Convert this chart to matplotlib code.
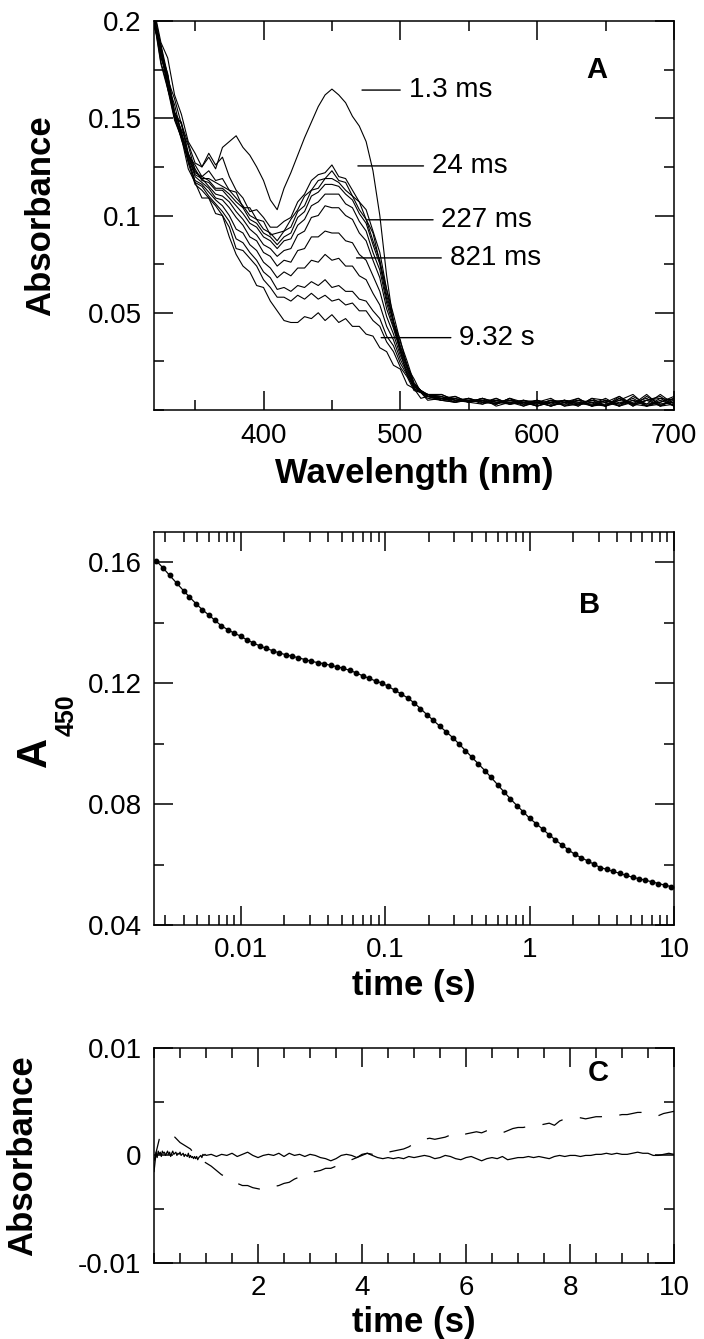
import numpy as np
import matplotlib
matplotlib.use("Agg")
import matplotlib.pyplot as plt
from matplotlib.ticker import MultipleLocator, LogLocator, NullFormatter

plt.rcParams['font.family'] = ['Liberation Sans', 'DejaVu Sans']

# ---- panel A: spectra (mA), 320-520 nm every 5 nm, then 530-700 every 10 nm
wl_main = np.arange(320, 521, 5)
wl_tail = np.arange(530, 701, 10)
wavelengths = np.concatenate([wl_main, wl_tail])

spec_main = [
    [206, 189, 181, 162, 152, 138, 132, 125, 130, 124, 135, 138, 141, 135, 131, 125, 118, 108, 103, 114, 122,
     131, 140, 148, 156, 162, 165, 162, 158, 151, 146, 138, 123, 100, 69, 45, 30, 18, 12, 9, 8],
    [205, 187, 170, 160, 147, 137, 127, 125, 132, 126, 130, 120, 113, 109, 102, 103, 99, 94, 94, 97, 99,
     107, 111, 118, 121, 122, 126, 120, 119, 113, 107, 103, 92, 81, 62, 49, 35, 25, 14, 10, 8],
    [200, 188, 172, 153, 147, 131, 126, 120, 123, 118, 119, 113, 112, 104, 104, 98, 97, 90, 91, 92, 98,
     103, 110, 113, 118, 119, 123, 118, 117, 110, 107, 98, 91, 76, 62, 45, 36, 22, 16, 9, 8],
    [203, 184, 173, 153, 144, 136, 123, 119, 119, 117, 115, 113, 109, 105, 100, 98, 93, 91, 87, 92, 94,
     102, 105, 113, 114, 119, 119, 117, 113, 110, 103, 98, 87, 77, 59, 46, 33, 23, 13, 10, 8],
    [198, 186, 167, 157, 142, 132, 122, 120, 118, 114, 114, 111, 107, 104, 98, 96, 91, 89, 85, 89, 91,
     99, 102, 110, 112, 116, 116, 115, 111, 108, 101, 96, 85, 75, 57, 45, 32, 23, 13, 10, 7],
    [202, 181, 172, 150, 148, 132, 124, 118, 117, 113, 113, 109, 105, 101, 96, 94, 89, 87, 83, 87, 88,
     95, 98, 105, 107, 111, 111, 111, 106, 104, 97, 92, 81, 72, 55, 43, 31, 22, 13, 10, 7],
    [199, 185, 165, 153, 143, 131, 121, 119, 115, 111, 110, 107, 102, 98, 93, 90, 85, 83, 79, 82, 83,
     90, 92, 99, 100, 105, 104, 104, 100, 98, 91, 87, 77, 68, 52, 42, 30, 21, 12, 10, 7],
    [204, 182, 169, 151, 141, 130, 120, 117, 114, 109, 108, 104, 99, 95, 89, 87, 81, 79, 74, 77, 76,
     82, 83, 89, 89, 92, 91, 91, 87, 86, 80, 77, 69, 61, 48, 39, 28, 20, 12, 10, 7],
    [197, 187, 166, 150, 140, 128, 118, 116, 112, 108, 105, 100, 93, 91, 85, 82, 76, 73, 68, 71, 69,
     73, 73, 77, 76, 80, 77, 78, 74, 74, 69, 67, 60, 54, 43, 36, 26, 19, 11, 9, 7],
    [201, 179, 166, 152, 139, 129, 117, 115, 110, 106, 102, 97, 88, 86, 81, 77, 71, 68, 62, 63, 61,
     64, 63, 66, 64, 67, 63, 64, 61, 61, 57, 56, 51, 47, 38, 33, 24, 18, 11, 9, 6],
    [198, 184, 168, 151, 142, 127, 116, 113, 109, 105, 100, 94, 83, 82, 78, 74, 67, 63, 58, 58, 56,
     59, 57, 60, 57, 59, 56, 57, 54, 55, 51, 51, 46, 43, 35, 30, 22, 17, 10, 9, 5],
    [200, 178, 165, 149, 140, 124, 117, 109, 109, 101, 100, 89, 80, 74, 71, 64, 63, 56, 51, 46, 45,
     45, 48, 47, 50, 46, 49, 45, 47, 43, 43, 39, 38, 32, 30, 23, 21, 13, 11, 6, 7],
]
spec_tail = [
    [8, 5, 6, 4, 6, 3, 5, 4, 6, 2, 5, 4, 2, 7, 3, 5, 6, 2],
    [6, 7, 4, 5, 3, 6, 4, 2, 5, 4, 2, 6, 5, 3, 6, 2, 4, 7],
    [7, 4, 6, 3, 5, 4, 2, 5, 3, 5, 4, 3, 2, 6, 2, 7, 3, 4],
    [5, 6, 4, 6, 4, 5, 3, 4, 2, 4, 6, 2, 5, 3, 5, 3, 8, 3],
    [8, 5, 4, 6, 2, 4, 5, 3, 5, 2, 3, 5, 4, 2, 7, 3, 4, 6],
    [6, 4, 5, 5, 3, 5, 4, 2, 4, 5, 2, 6, 2, 5, 3, 8, 2, 5],
    [5, 7, 4, 3, 6, 3, 4, 5, 2, 4, 5, 2, 4, 7, 2, 5, 7, 2],
    [7, 5, 5, 4, 3, 6, 2, 4, 4, 5, 3, 3, 6, 2, 5, 2, 6, 5],
    [6, 6, 4, 6, 4, 4, 3, 3, 5, 4, 4, 2, 3, 5, 8, 2, 3, 4],
    [5, 4, 6, 4, 5, 3, 4, 4, 2, 5, 3, 4, 2, 6, 3, 5, 2, 6],
    [6, 5, 5, 5, 3, 6, 3, 5, 3, 3, 6, 2, 5, 2, 4, 6, 2, 3],
    [5, 4, 5, 4, 4, 3, 5, 2, 4, 3, 3, 5, 2, 4, 3, 2, 5, 2],
]

# time labels with leader lines: (text, line start nm, text start nm, y)
time_labels = ["1.3 ms", "24 ms", "227 ms", "821 ms", "9.32 s"]
label_line_x = [472, 469, 476, 468, 486]
label_text_x = [506, 523, 530, 536, 543]
label_y = [0.1645, 0.1255, 0.0978, 0.0782, 0.0372]

# ---- panel B: A450 vs time
t_b = [0.0026, 0.0029, 0.0032, 0.0036, 0.004, 0.0044, 0.0049, 0.0054, 0.006, 0.0066,
       0.0073, 0.0081, 0.009, 0.01, 0.011, 0.0122, 0.0135, 0.015, 0.0166, 0.0184,
       0.0204, 0.0226, 0.025, 0.0277, 0.0307, 0.034, 0.0377, 0.0418, 0.0463, 0.0513,
       0.0568, 0.063, 0.0698, 0.0773, 0.0857, 0.095, 0.105, 0.116, 0.129, 0.143,
       0.158, 0.175, 0.194, 0.215, 0.238, 0.264, 0.293, 0.324, 0.359, 0.398,
       0.441, 0.489, 0.541, 0.6, 0.665, 0.736, 0.816, 0.904, 1.0, 1.11,
       1.23, 1.36, 1.51, 1.67, 1.85, 2.05, 2.27, 2.52, 2.79, 3.09,
       3.42, 3.79, 4.2, 4.66, 5.16, 5.72, 6.33, 7.02, 7.78, 8.62, 9.55]
a450 = [0.1604, 0.1580, 0.1557, 0.1530, 0.1506, 0.1485, 0.1462, 0.1443, 0.1425, 0.1408,
        0.1390, 0.1377, 0.1365, 0.1355, 0.1343, 0.1333, 0.1323, 0.1315, 0.1307, 0.1300,
        0.1294, 0.1289, 0.1284, 0.1278, 0.1272, 0.1268, 0.1264, 0.1259, 0.1254, 0.1249,
        0.1242, 0.1234, 0.1224, 0.1216, 0.1207, 0.1200, 0.1189, 0.1177, 0.1164, 0.1151,
        0.1135, 0.1116, 0.1096, 0.1077, 0.1058, 0.1039, 0.1020, 0.0999, 0.0977, 0.0955,
        0.0933, 0.0911, 0.0888, 0.0864, 0.0840, 0.0817, 0.0795, 0.0774, 0.0753, 0.0735,
        0.0717, 0.0699, 0.0681, 0.0665, 0.0649, 0.0634, 0.0623, 0.0612, 0.0601, 0.0590,
        0.0584, 0.0577, 0.0571, 0.0564, 0.0558, 0.0553, 0.0548, 0.0543, 0.0537, 0.0532, 0.0527]

# ---- panel C: residuals (units of 1e-4)
resid_solid_early = [-15, -6, 3, -2, 4, 1, 3, -1, 4, 2, 3, 0, 2, 4, 1, 3, -1, 2, 4, 1,
                     2, 3, 0, 2, 1, 3, 0, 1, 2, -1, 1, 0, -1, 2, -2, 0, -2, -1, -3, -1,
                     -3, -1, -4, -2, -1, 0, -2, 1, 0, 1]
resid_solid_late = [0, 1, -1, 1, 0, 2, -1, 1, 3, 0,
                    -2, 0, 1, 0, 2, -1, 2, 0, 1, -1,
                    1, 0, -2, -3, -5, -3, 0, 1, 0, -2,
                    1, 2, 0, -2, -3, -2, -3, -2, -3, -1,
                    -2, -1, 0, -1, -3, -2, 0, -1, -3, -4,
                    -2, -1, -3, -5, -3, -2, -3, -1, -4, -3,
                    -2, -2, -1, -2, -1, -2, -3, -1, 0, -1,
                    0, 0, -1, 0, 0, 1, 1, 2, 1, 2,
                    1, 1, 2, 3, 2, 2, 0, 0, 1, 2,
                    1]
resid_dashed = [-5, 15, 20, 18, 17, 12, 9, 6, 0, -4,
                -7, -10, -14, -18, -20, -23, -26, -28, -28, -30,
                -31, -32, -30, -29, -28, -26, -25, -22, -20, -18,
                -16, -15, -14, -12, -12, -10, -8, -6, -4, -2,
                0, 2, 1, 0, 1, 3, 4, 5, 6, 8,
                11, 13, 15, 16, 15, 16, 17, 19, 17, 18,
                20, 21, 22, 21, 23, 24, 22, 21, 23, 25,
                26, 26, 27, 27, 28, 29, 30, 28, 32, 34,
                34, 35, 35, 34, 35, 36, 36, 37, 37, 37,
                38, 38, 39, 40, 40, 40, 38, 37, 39, 40,
                41]
t_c_early = np.arange(0, 1.0, 0.02)
t_c_late = np.linspace(1.0, 10.0, 91)
t_c_dash = np.linspace(0, 10, 101)

tick_fs = 20
label_fs = 25
panel_fs = 21


def style_axes(ax):
    ax.tick_params(which='both', direction='in', top=True, right=True,
                   labelsize=tick_fs, width=1.1, pad=9)
    ax.tick_params(which='major', length=13.5)
    ax.tick_params(which='minor', length=7)
    for s in ax.spines.values():
        s.set_linewidth(1.1)


fig = plt.figure(figsize=(7.04, 13.39), dpi=100)
left, width = 0.2188, 0.7386
axA = fig.add_axes([left, 0.6938, width, 0.2905])
axB = fig.add_axes([left, 0.3092, width, 0.2935])
axC = fig.add_axes([left, 0.0568, width, 0.1606])

# panel A
for main, tail in zip(spec_main, spec_tail):
    axA.plot(wavelengths, np.array(main + tail) / 1000.0, color='black', lw=0.8)
for txt, lx, tx, y in zip(time_labels, label_line_x, label_text_x, label_y):
    axA.annotate(txt, xy=(lx, y), xytext=(tx, y), ha='left', va='center',
                 fontsize=20,
                 arrowprops=dict(arrowstyle='-', lw=1.0, color='black',
                                 shrinkA=4, shrinkB=0, relpos=(0, 0.5)))
axA.set_xlim(320, 700)
axA.set_ylim(0, 0.2)
axA.set_xticks([400, 500, 600, 700])
axA.set_xticklabels(['400', '500', '600', '700'])
axA.set_yticks([0.05, 0.1, 0.15, 0.2])
axA.set_yticklabels(['0.05', '0.1', '0.15', '0.2'])
axA.xaxis.set_minor_locator(MultipleLocator(50))
axA.yaxis.set_minor_locator(MultipleLocator(0.025))
style_axes(axA)
axA.set_xlabel('Wavelength (nm)', fontsize=label_fs, fontweight='bold', labelpad=6)
axA.set_ylabel('Absorbance', fontsize=label_fs, fontweight='bold', labelpad=22)
axA.text(0.852, 0.873, 'A', transform=axA.transAxes, fontsize=panel_fs,
         fontweight='bold', ha='center', va='center')

# panel B
axB.plot(t_b, a450, color='black', lw=0.9)
axB.plot(t_b, a450, 'o', color='black', ms=3.2)
axB.set_xscale('log')
axB.set_xlim(0.0025, 10)
axB.set_ylim(0.04, 0.17)
axB.set_xticks([0.01, 0.1, 1, 10])
axB.set_xticklabels(['0.01', '0.1', '1', '10'])
axB.xaxis.set_minor_locator(LogLocator(base=10, subs=np.arange(2, 10)))
axB.xaxis.set_minor_formatter(NullFormatter())
axB.set_yticks([0.04, 0.08, 0.12, 0.16])
axB.set_yticklabels(['0.04', '0.08', '0.12', '0.16'])
axB.yaxis.set_minor_locator(MultipleLocator(0.02))
style_axes(axB)
axB.set_xlabel('time (s)', fontsize=label_fs, fontweight='bold', labelpad=4)
# y label "A" with subscript "450", both rotated
axB.text(-0.229, 0.44, 'A', transform=axB.transAxes, rotation=90, fontsize=30,
         fontweight='bold', ha='center', va='center')
axB.text(-0.168, 0.535, '450', transform=axB.transAxes, rotation=90, fontsize=18,
         fontweight='bold', ha='center', va='center')
axB.text(0.837, 0.815, 'B', transform=axB.transAxes, fontsize=panel_fs,
         fontweight='bold', ha='center', va='center')

# panel C
axC.plot(np.concatenate([t_c_early, t_c_late]),
         np.array(resid_solid_early + resid_solid_late) * 1e-4,
         color='black', lw=0.9)
axC.plot(t_c_dash, np.array(resid_dashed) * 1e-4, color='black', lw=0.9,
         dashes=(18, 14))
axC.set_xlim(0, 10)
axC.set_ylim(-0.01, 0.01)
axC.set_xticks([2, 4, 6, 8, 10])
axC.set_xticklabels(['2', '4', '6', '8', '10'])
axC.xaxis.set_minor_locator(MultipleLocator(0.5))
axC.set_yticks([-0.01, 0, 0.01])
axC.set_yticklabels(['-0.01', '0', '0.01'])
axC.yaxis.set_minor_locator(MultipleLocator(0.005))
style_axes(axC)
axC.set_xlabel('time (s)', fontsize=label_fs, fontweight='bold', labelpad=3)
axC.set_ylabel('Absorbance', fontsize=label_fs, fontweight='bold', labelpad=28)
axC.text(0.854, 0.884, 'C', transform=axC.transAxes, fontsize=panel_fs,
         fontweight='bold', ha='center', va='center')

fig.savefig('out.png', dpi=100)
